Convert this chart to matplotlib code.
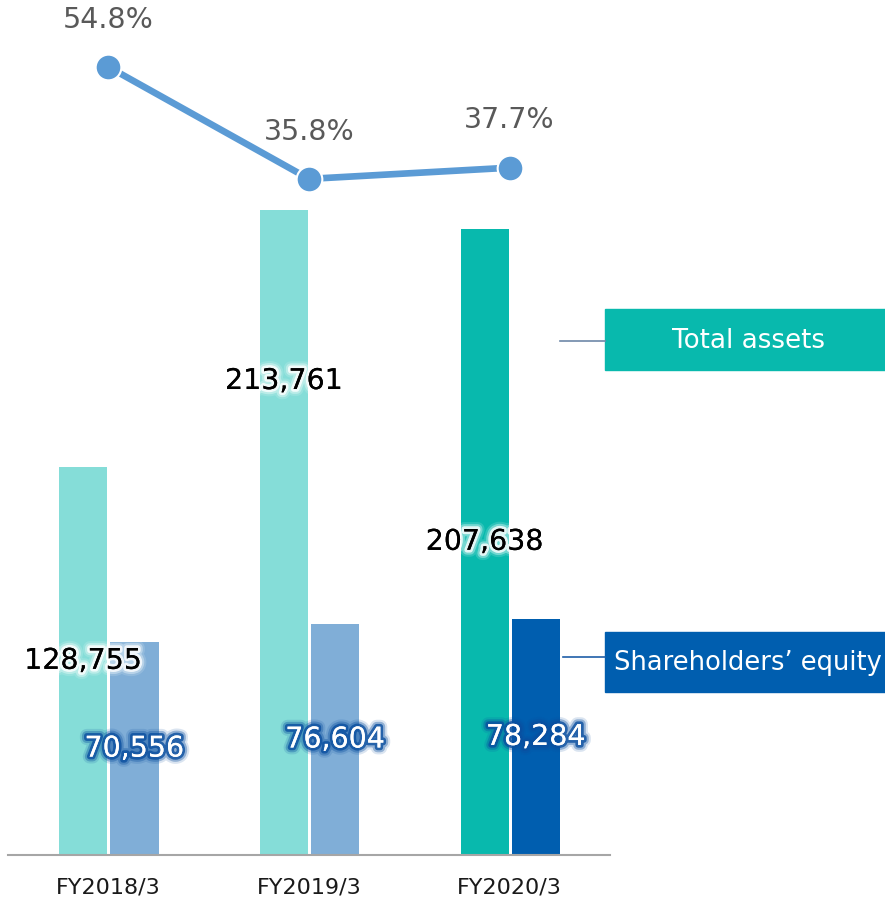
import matplotlib.pyplot as plt
import matplotlib.patheffects as pe
from matplotlib.patches import Rectangle
from matplotlib.lines import Line2D
import numpy as np

# data
years = ['FY2018/3', 'FY2019/3', 'FY2020/3']
total_assets = [128755, 213761, 207638]
equity = [70556, 76604, 78284]
equity_ratio = [54.8, 35.8, 37.7]

# colours (last year highlighted)
ta_colors = ['#85DDD8', '#85DDD8', '#08B9AD']
eq_colors = ['#80AED7', '#80AED7', '#005EAF']
line_color = '#5B9BD5'

W, H = 885, 905
fig = plt.figure(figsize=(W / 100, H / 100), dpi=100)

def fx(px):
    return px / W

def fy(py):
    return 1 - py / H

def glow(color):
    # soft halo from stacked translucent strokes
    return [pe.withStroke(linewidth=10, foreground=color, alpha=0.15),
            pe.withStroke(linewidth=7, foreground=color, alpha=0.35),
            pe.withStroke(linewidth=4, foreground=color, alpha=0.8),
            pe.Normal()]

# bar axes: baseline at y=855, top at y=5
ax = fig.add_axes([fx(8), fy(855), fx(602), (855 - 5) / H])
x = np.arange(len(years))
bw = 0.24
ax.bar(x - 0.125, total_assets, bw, color=ta_colors, zorder=2)
ax.bar(x + 0.13, equity, bw, color=eq_colors, zorder=2)
ax.set_xlim(-0.5, 2.5)
ax.set_ylim(0, 281750)
for s in ['top', 'right', 'left']:
    ax.spines[s].set_visible(False)
ax.spines['bottom'].set_color('#A6A6A6')
ax.spines['bottom'].set_linewidth(1.5)
ax.set_yticks([])
ax.set_xticks(x)
ax.set_xticklabels(years, fontsize=16, color='#1A1A1A')
ax.tick_params(axis='x', length=0, pad=16)

# value labels
ta_pos = [0.5, 0.735, 0.5]
for i in range(len(years)):
    ax.text(x[i] - 0.125, total_assets[i] * ta_pos[i], f'{total_assets[i]:,}',
            ha='center', va='center', fontsize=20.5, color='black',
            path_effects=glow('white'), zorder=4)
    ax.text(x[i] + 0.13, equity[i] * 0.5, f'{equity[i]:,}',
            ha='center', va='center', fontsize=20.5, color='white',
            path_effects=glow('#0A4FA0'), zorder=4)

# equity ratio line
ax2 = ax.twinx()
ax2.set_ylim(-78.9, 65.3)
ax2.axis('off')
ax2.plot(x, equity_ratio, color=line_color, lw=4.8, marker='o', ms=18.5,
         mec='white', mew=1.5, zorder=3)
for i, v in enumerate(equity_ratio):
    ax2.annotate(f'{v}%', (x[i], v), xytext=(0, 34), textcoords='offset points',
                 ha='center', va='center', fontsize=20.5, color='#595959')

# legend boxes with leader lines
fig.add_artist(Line2D([fx(560), fx(605)], [fy(341), fy(341)], color='#6E88A8', lw=1.2))
fig.add_artist(Rectangle((fx(605), fy(370)), fx(280), (370 - 309) / H,
                         color='#08B9AD', transform=fig.transFigure))
fig.text(fx(749), fy(341), 'Total assets', ha='center', va='center',
         fontsize=18.8, color='white')

fig.add_artist(Line2D([fx(563), fx(605)], [fy(657), fy(657)], color='#1F5FA8', lw=1.2))
fig.add_artist(Rectangle((fx(605), fy(692)), fx(280), (692 - 632) / H,
                         color='#005EAF', transform=fig.transFigure))
fig.text(fx(748), fy(663), 'Shareholders\u2019 equity', ha='center', va='center',
         fontsize=18.5, color='white')

plt.savefig('out.png', dpi=100)
